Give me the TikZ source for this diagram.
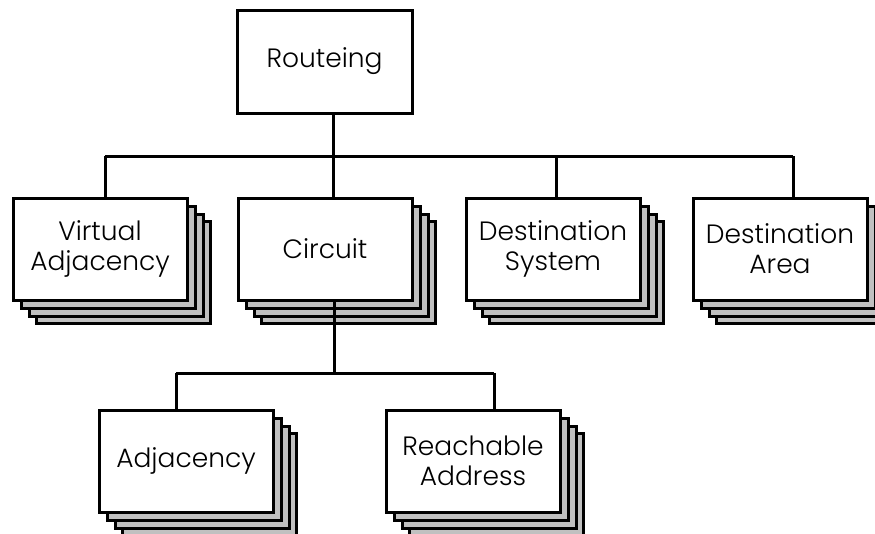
\documentclass[tikz,border=0pt]{standalone}
\usepackage{fontspec}
\setmainfont{Poppins}[UprightFont=* Light]
\definecolor{shadegray}{HTML}{C0C0C0}
\tikzset{
  line/.style={line width=3pt},
  shad/.style={line width=3pt, fill=shadegray, draw=black},
  box/.style={draw=black, fill=white, line width=3pt, rectangle, minimum width=174pt, minimum height=102pt, inner sep=0pt, align=center, font=\fontsize{26.5}{30}\selectfont},
}
\newcommand\stk[4]{%
  \foreach \o in {23,16,8}{\draw[shad] ({#2+\o},{#3+\o}) rectangle ++(174,102);}
  \node[box] (#1) at ({#2+87},{#3+51}) {#4};
}
\begin{document}
\begin{tikzpicture}[x=1pt,y=-1pt]
\useasboundingbox (0,0) rectangle (875,533);
\node[box, minimum width=175pt, minimum height=103pt] (R) at (324.5,61.5) {Routeing};
\stk{VA}{13}{198}{Virtual\\Adjacency}
\stk{C}{238}{198}{Circuit}
\stk{DS}{466}{198}{Destination\\System}
\stk{DA}{693}{198}{Destination\\Area}
\stk{A}{99}{410}{Adjacency}
\stk{RA}{386}{410}{Reachable\\Address}
% junctions
\coordinate (j1) at (333,156);
\coordinate (jL) at (105,156);
\coordinate (jDS) at (556,156);
\coordinate (jR) at (793,156);
\coordinate (j2) at (334,373);
\coordinate (j2L) at (176,373);
\coordinate (j2R) at (494,373);
\draw[line] (R.south -| j1) -- (C.north -| j1);
\draw[line] (jL) -- (jR);
\draw[line] (jL) -- (VA.north -| jL);
\draw[line] (jDS) -- (DS.north -| jDS);
\draw[line] (jR) -- (DA.north -| jR);
\draw[line] (C.south -| j2) -- (j2);
\draw[line] (j2L) -- (j2R);
\draw[line] (j2L) -- (A.north -| j2L);
\draw[line] (j2R) -- (RA.north -| j2R);
\end{tikzpicture}
\end{document}
